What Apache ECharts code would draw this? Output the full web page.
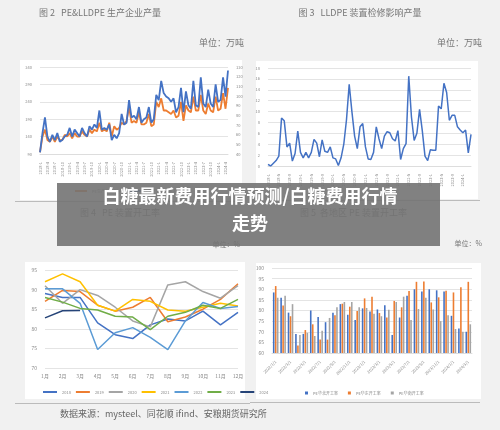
<!DOCTYPE html><html><head><meta charset="utf-8"><script src="https://cdn.jsdelivr.net/npm/echarts@6/dist/echarts.min.js"></script>
<style>html,body{margin:0;background:#f1f1f1}#c{width:500px;height:430px}</style></head><body><div id="c"></div><script>
// Chart 1 (monthly 2018-1 .. 2024-5)
var c1Dates=[];for(var y=2018;y<=2024;y++)for(var m=1;m<=12;m++){if(y==2024&&m>5)break;c1Dates.push(y+'-'+m);}
var pe=[95,140,160,130,125,140,125,140,130,130,145,140,150,135,150,140,140,155,145,140,160,150,160,155,180,155,160,155,180,140,170,160,165,180,175,185,225,180,185,180,210,175,175,180,205,170,175,240,225,250,215,215,210,205,215,195,200,240,185,230,215,210,255,215,215,260,215,205,235,215,210,255,215,220,265,220,280];
var lldpe=[41.8,61.6,77.8,58,52.6,59.8,54.4,61.6,52.6,54.4,58,59.8,67,58,65.2,61.6,58,67,61.6,58,68.8,65.2,70.6,67,85,65.2,67,65.2,70.6,54.4,59.8,56.2,61.6,81.4,70.6,72.4,95.8,77.8,79.6,76,88.6,72.4,76,77.8,88.6,72.4,76,101.2,95.8,115.6,103,99.4,97.6,94,97.6,83.2,88.6,108.4,83.2,104.8,90.4,86.8,115.6,90.4,88.6,119.2,92.2,88.6,106.6,92.2,88.6,112,94,95.8,119.2,99.4,126.4];
// Chart 2
var maint=[0.3,0,0.5,1,1.8,8.8,8.3,3.5,4.2,0.9,2.3,6.4,2.5,1.5,2.5,1.5,2.5,4.9,4.2,1.7,4.8,2.7,2.5,3.5,1.5,1.3,0.1,1.5,4,8.5,15,10,5.5,3.2,7.2,7.8,3.5,1.3,1.2,2.5,7.2,5,3.2,5.5,6.3,6.1,5,4.6,6.5,1.2,3.2,4.1,16.5,9,4.7,6,10.4,6.5,1.8,1,3,2.9,2.9,11,10.5,15.2,13.5,8.4,9.3,9.3,7.2,6.6,6.1,6.6,2.4,5.8];
// Chart 3
var months=['1月','2月','3月','4月','5月','6月','7月','8月','9月','10月','11月','12月'];
var years=['2018','2019','2020','2021','2022','2023','2024'];
var r2018=[89,88,88,81.5,78.5,77.5,81,82.5,82,84.5,81,84.2];
var r2019=[87,89.8,89.5,86,84.5,85.5,88,81.8,83,85,87.5,91.5];
var r2020=[91,86.5,90,88.5,85.5,82,80.5,91.2,92,89.5,87.8,91];
var r2021=[92,94,92,86,84.5,87.5,87,84.8,84.5,85.5,86.5,85.8];
var r2022=[90.2,90.2,86.5,74.7,79,80.3,77.8,74.7,82,86.7,85.2,85.7];
var r2023=[88,86.8,85.2,84.8,83.2,83,79.8,83.2,84.2,86,85.2,87.5];
var r2024=[82.8,84.6,84.7];
// Chart 4
var c4Dates=[];for(var y=2022;y<=2024;y++)for(var m=1;m<=12;m++){if(y==2024&&m>3)break;c4Dates.push(y+'/'+m+'/1');}
var north=[88.5,86,79,69,69,80,77,74.5,79,83,78,75.5,81,79.5,80.5,82.5,68.5,76.7,87,90,89,90,89.5,89,77.5,71.5,70];
var east=[91.5,82.3,77.3,63.5,70.8,73.5,66.3,66.3,77.8,83.2,81.8,79.8,85.7,86.5,78.8,76.7,84.5,81.5,89.2,93.5,93.6,83.8,86.2,89.3,88.5,91,93.5];
var south=[86,87,83,68.5,69.5,68,70.5,76.5,81.5,84,84,81.5,81.2,78.5,77.3,80.3,84,86.5,75.5,80.7,86,80.5,75,77.8,71.3,70,73.5];

var gl={lineStyle:{color:'#e4e4e4'}};
var ch=echarts.init(document.getElementById('c'));
function tiny(fs){return {fontSize:fs||5,color:'#888'};}
var yr=[r2018,r2019,r2020,r2021,r2022,r2023,r2024];
var yc=['#4472c4','#ed7d31','#a5a5a5','#ffc000','#5b9bd5','#70ad47','#264478'];
var series=[
 {type:'line',name:'PE生产企业产量',xAxisIndex:0,yAxisIndex:0,data:pe,symbol:'none',lineStyle:{width:1.8,color:'#ed7d31'},itemStyle:{color:'#ed7d31'}},
 {type:'line',name:'L生产企业产量 右轴',xAxisIndex:0,yAxisIndex:1,data:lldpe,symbol:'none',lineStyle:{width:1.8,color:'#4472c4'},itemStyle:{color:'#4472c4'}},
 {type:'line',xAxisIndex:1,yAxisIndex:2,data:maint,symbol:'none',lineStyle:{width:1.5,color:'#4472c4'}}
];
years.forEach(function(y,i){series.push({type:'line',name:y,xAxisIndex:2,yAxisIndex:3,data:yr[i],symbol:'none',lineStyle:{width:1.5,color:yc[i]},itemStyle:{color:yc[i]}});});
[['PE华北开工率',north,'#4472c4'],['PE华东开工率',east,'#ed7d31'],['PE华南开工率',south,'#a5a5a5']].forEach(function(s){series.push({type:'bar',name:s[0],xAxisIndex:3,yAxisIndex:4,data:s[1],barWidth:1.6,barGap:'25%',itemStyle:{color:s[2]}});});
function rect(x,y,w,h,f){return {type:'rect',shape:{x:x,y:y,width:w,height:h},style:{fill:f},z:-1,silent:true};}
function txt(x,y,t,fs,col,al,fw){return {type:'text',x:x,y:y,style:{text:t,fontSize:fs,fill:col,align:al||'left',fontWeight:fw||'normal',fontFamily:'Noto Sans CJK SC'},z:100};}
var ov=rect(57,183,383,63,'rgba(115,115,115,0.9)');ov.zlevel=1;
var t1=txt(250,187,'白糖最新费用行情预测/白糖费用行情',18,'#fff','center','bold');t1.zlevel=1;
var t2=txt(250,214,'走势',18,'#fff','center','bold');t2.zlevel=1;
ch.setOption({
 animation:false,
 textStyle:{fontFamily:'Noto Sans CJK SC'},
 graphic:[
  rect(20,60,222,140,'#fff'),rect(256,61,222,138,'#fff'),rect(25,262,220,137,'#fff'),rect(256,263,225,136,'#fff'),
  rect(15,201,230,1,'#bbb'),rect(265,200,215,1,'#bbb'),rect(15,403,235,1,'#bbb'),rect(250,402,230,1,'#bbb'),
  txt(100,8,'图 2   PE&LLDPE 生产企业产量',9,'#777','center'),
  txt(244,38,'单位：万吨',9,'#777','right'),
  txt(360,8,'图 3   LLDPE 装置检修影响产量',9,'#777','center'),
  txt(482,38,'单位：万吨',9,'#777','right'),
  txt(240,241,'单位：%',7,'#777','right'),txt(482,240,'单位：%',7,'#777','right'),
  txt(60,409,'数据来源：mysteel、同花顺 ifind、安粮期货研究所',9,'#666'),
  txt(80,208,'图 4   PE 装置开工率',9,'#777'),txt(300,208,'图 5  各地区 PE 装置开工率',9,'#777'),
  ov,t1,t2
 ],
 legend:[
  {data:['PE生产企业产量','L生产企业产量 右轴'],left:70,top:184,itemWidth:12,itemHeight:2,itemGap:8,textStyle:tiny(4),icon:'rect'},
  {data:years,left:38,top:385,itemWidth:14,itemHeight:2,itemGap:5,textStyle:tiny(4),icon:'rect'},
  {data:['PE华北开工率','PE华东开工率','PE华南开工率'],left:300,top:386,itemWidth:3,itemHeight:3,itemGap:10,textStyle:tiny(4),icon:'rect'}
 ],
 grid:[
  {left:40,top:67,width:188,height:87},
  {left:268,top:68,width:203,height:98},
  {left:45,top:270,width:193,height:98},
  {left:272,top:268,width:200,height:85}
 ],
 xAxis:[
  {type:'category',gridIndex:0,data:c1Dates,boundaryGap:false,axisTick:{show:false},axisLine:{lineStyle:{color:'#ddd'}},axisLabel:{fontSize:4,color:'#888',rotate:90,interval:2}},
  {type:'category',gridIndex:1,data:c1Dates.slice(0,maint.length),boundaryGap:false,axisTick:{show:false},axisLine:{lineStyle:{color:'#ddd'}},axisLabel:{fontSize:4,color:'#888',rotate:90,interval:3}},
  {type:'category',gridIndex:2,data:months,boundaryGap:false,axisTick:{show:false},axisLine:{show:false},axisLabel:{fontSize:5,color:'#888',margin:6}},
  {type:'category',gridIndex:3,data:c4Dates,axisTick:{show:false},axisLine:{lineStyle:{color:'#ddd'}},axisLabel:{fontSize:4,color:'#888',rotate:45,interval:1}}
 ],
 yAxis:[
  {type:'value',gridIndex:0,min:90,max:340,interval:50,splitLine:gl,axisLabel:tiny(4)},
  {type:'value',gridIndex:0,min:40,max:130,interval:10,splitLine:{show:false},axisLabel:tiny(4)},
  {type:'value',gridIndex:1,min:0,max:18,interval:2,splitLine:gl,axisLabel:tiny(4)},
  {type:'value',gridIndex:2,min:70,max:95,interval:5,splitLine:gl,axisLabel:tiny(5)},
  {type:'value',gridIndex:3,min:60,max:100,interval:5,splitLine:gl,axisLabel:tiny(5)}
 ],
 series:series
});
</script></body></html>
